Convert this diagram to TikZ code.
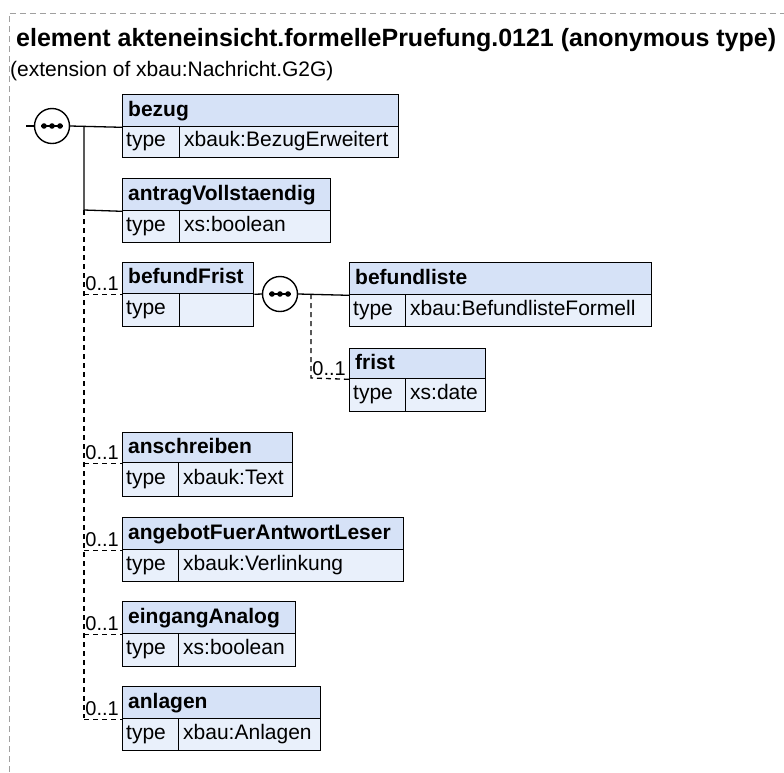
\documentclass[tikz,border=0pt]{standalone}
\usepackage{fontspec}
\setmainfont{Liberation Sans}
\definecolor{hdrfill}{RGB}{214,226,247}
\definecolor{typefill}{RGB}{233,240,251}
\definecolor{framegray}{RGB}{160,160,160}
\newcommand\elfont{\fontsize{21}{25}\selectfont}
\newcommand\xsdelem[9]{%
  \node[hdrbox, minimum width={#6-#2}, minimum height={#4-#3}] (#1) at (#2,#3) {};
  \node[typebox, minimum width={#7-#2}, minimum height={#5-#4}] (#1-t) at (#2,#4) {};
  \node[typebox, minimum width={#6-#7}, minimum height={#5-#4}] (#1-v) at (#7,#4) {};
  \node[txt, font=\elfont\bfseries] (#1-n) at ({#2+6},{(#3+#4)/2+6}) {#8};
  \node[txt, font=\elfont] (#1-tl) at ({#2+4},{(#4+#5)/2+5}) {type};
  \node[txt, font=\elfont] (#1-vl) at ({#7+5},{(#4+#5)/2+5}) {#9};
}
\begin{document}
\begin{tikzpicture}[x=1pt,y=-1pt,
  hdrbox/.style={draw=black, fill=hdrfill, line width=1.3pt, inner sep=0pt, anchor=north west},
  typebox/.style={draw=black, fill=typefill, line width=1.3pt, inner sep=0pt, anchor=north west},
  txt/.style={anchor=base west, inner sep=0pt},
  conn/.style={line width=1.3pt, draw=black},
  opt/.style={line width=1.3pt, draw=black, dash pattern=on 5pt off 4pt},
  card/.style={anchor=base east, inner sep=0pt, font=\fontsize{20}{23}\selectfont},
  seqc/.style={circle, draw=black, fill=white, line width=1.4pt, minimum size=35pt, inner sep=0pt}
]
\useasboundingbox (0,0) rectangle (784,772);
% frame
\draw[framegray, line width=1pt, dash pattern=on 6pt off 4pt] (9,772) -- (9,13) -- (784,13);
% title
\node[txt, font=\fontsize{25}{30}\selectfont\bfseries] (title) at (16,46) {element akteneinsicht.formellePruefung.0121 (anonymous type)};
\node[txt, font=\elfont] (sub) at (10,76) {(extension of xbau:Nachricht.G2G)};

% elements
\xsdelem{bz}{122}{94}{126}{157}{398}{179}{bezug}{xbauk:BezugErweitert}
\xsdelem{av}{122}{178}{210}{242}{330}{179}{antragVollstaendig}{xs:boolean}
\xsdelem{bf}{122}{262}{293}{326}{253}{179}{befundFrist}{}
\xsdelem{bl}{349}{262}{294}{326}{651}{405}{befundliste}{xbau:BefundlisteFormell}
\xsdelem{fr}{349}{348}{378}{411}{485}{405}{frist}{xs:date}
\xsdelem{an}{122}{432}{462}{496}{292}{178}{anschreiben}{xbauk:Text}
\xsdelem{ag}{122}{517}{549}{581}{403}{178}{angebotFuerAntwortLeser}{xbauk:Verlinkung}
\xsdelem{ei}{122}{601}{633}{666}{295}{178}{eingangAnalog}{xs:boolean}
\xsdelem{al}{122}{686}{718}{750}{320}{178}{anlagen}{xbau:Anlagen}

% sequence 1
\coordinate (stub) at (26,126);
\node[seqc] (s1) at (52,126) {};
\coordinate (t0) at (84,126);
\coordinate (t1) at (84,210);
\coordinate (t2) at (84,718);
\draw[conn] (stub) -- (s1.west);
\draw[conn] (s1.east) -- (bz.south west);
\draw[conn] (t0) -- (t1) -- (av.south west);
\draw[opt] (t1) -- (t2);
\foreach \b in {bf,an,ag,ei,al}{
  \draw[opt] (t2 |- \b.south west) -- (\b.south west);
  \node[card] at ([xshift=-3pt,yshift=4pt]\b.south west) {0..1};
}

% sequence 2
\node[seqc] (s2) at (280,294) {};
\coordinate (u0) at (311,294);
\coordinate (u1) at (311,378);
\draw[conn] (bf.south east) -- (s2.west);
\draw[conn] (s2.east) -- (bl.south west);
\draw[opt] (u0) -- (u1) -- (fr.south west);
\node[card] at ([xshift=-3pt,yshift=4pt]fr.south west) {0..1};

% dots in sequence circles
\foreach \s in {s1,s2}{
  \draw[line width=1.4pt] ([xshift=-11pt]\s.center) -- ([xshift=11pt]\s.center);
  \foreach \dx in {-8,0,8}
    \fill ([xshift=\dx pt]\s.center) circle (2.8pt);
}
\end{tikzpicture}
\end{document}
